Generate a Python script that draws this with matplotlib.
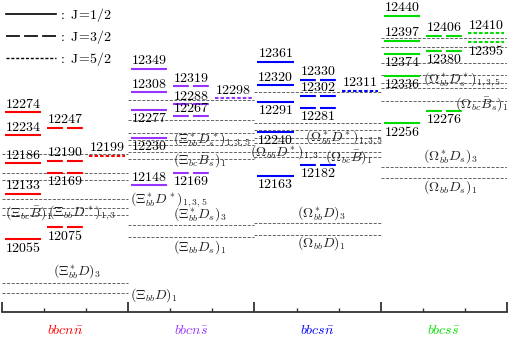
import matplotlib.pyplot as plt
from matplotlib.lines import Line2D

plt.rcParams['mathtext.fontset'] = 'cm'
plt.rcParams['font.family'] = 'serif'
plt.rcParams['font.serif'] = ['cmr10', 'DejaVu Serif']
plt.rcParams['lines.scale_dashes'] = False
plt.rcParams['axes.unicode_minus'] = False

# systems / colours
systems = [r'$bbcn\bar{n}$', r'$bbcn\bar{s}$', r'$bbcs\bar{n}$', r'$bbcs\bar{s}$']
colors = ['#ff0000', '#9933ff', '#0000ff', '#00dd00']

# mass levels (MeV), J=1/2, 3/2, 5/2
nn_j1 = [12274, 12234, 12186, 12133, 12055]
nn_j3 = [12247, 12190, 12169, 12075]
nn_j5 = [12199]
ns_j1 = [12349, 12308, 12277, 12230, 12148]
ns_j3 = [12319, 12288, 12267, 12169]
ns_j5 = [12298]
sn_j1 = [12361, 12320, 12291, 12240, 12163]
sn_j3 = [12330, 12302, 12281, 12182]
sn_j5 = [12311]
ss_j1 = [12440, 12397, 12374, 12336, 12256]
ss_j3 = [12406, 12380, 12276]
ss_j5 = [12410, 12395]

# label above (1) or below (0) the level
nn_up = [[1, 1, 1, 1, 0], [1, 1, 0, 0], [1]]
ns_up = [[1, 1, 0, 0, 1], [1, 1, 1, 0], [1]]
sn_up = [[1, 1, 0, 0, 0], [1, 1, 0, 0], [1]]
ss_up = [[1, 1, 0, 0, 0], [1, 0, 0], [1, 0]]

# meson-baryon thresholds (MeV)
nn_thr = [12202, 12169, 12157, 12124, 12108, 12096, 11979, 11962]
ns_thr = [12295, 12260, 12238, 12226, 12217, 12205, 12193, 12079, 12058]
sn_thr = [12309, 12255, 12243, 12229, 12221, 12205, 12196, 12082, 12062]
ss_thr = [12402, 12386, 12359, 12338, 12324, 12316, 12293, 12179, 12160]

groups = [([nn_j1, nn_j3, nn_j5], nn_up, nn_thr),
          ([ns_j1, ns_j3, ns_j5], ns_up, ns_thr),
          ([sn_j1, sn_j3, sn_j5], sn_up, sn_thr),
          ([ss_j1, ss_j3, ss_j5], ss_up, ss_thr)]

fig = plt.figure(figsize=(5.1, 3.39), dpi=100)
ax = fig.add_axes([2/510, 27/339, 505/510, 312/339])
ax.set_xlim(0, 12)
ax.set_ylim(11928.8, 12467.6)

styles = ['-', (0, (11.4, 3.0)), (0, (2.5, 1.5))]
px = 0.72  # points per pixel

for g, (levels, ups, thr) in enumerate(groups):
    ax.hlines(thr, 3*g, 3*g + 3, colors='#4a4a4a', lw=0.6, linestyles=(0, (2.2, 1.1)))
    for c in range(3):
        x0 = 3*g + c
        for E, up in zip(levels[c], ups[c]):
            ax.plot([x0 + 0.07, x0 + 0.93], [E, E], color=colors[g], lw=1.5,
                    ls=styles[c], solid_capstyle='butt', dash_capstyle='butt')
            ax.annotate(r'$%d$' % E, (x0 + 0.5, E),
                        xytext=(0, 1.5*px if up else -2*px), textcoords='offset points',
                        ha='center', va='bottom' if up else 'top', fontsize=10)
    ax.annotate(systems[g], (3*g + 1.5, ax.get_ylim()[0]), xytext=(0, -18*px),
                textcoords='offset points', ha='center', va='center',
                color=colors[g], fontsize=10)

# threshold labels: energy, text, x, vertical shift (px)
thr_labels = [
    (11962, r'$(\Xi_{bb}D)_1$', 3.04, -2),
    (11979, r'$(\Xi^*_{bb}D)_3$', 1.22, 11),
    (12124, r'$(\Xi^*_{bb}D^*)_{1,3,5}$', 3.04, -1),
    (12108, r'$(\Xi_{bb}D^*)_{1,3}$', 1.09, -4),
    (12096, r'$(\Xi_{bc}\bar{B})_1$', 0.07, 2),
    (12079, r'$(\Xi^*_{bb}D_s)_3$', 4.06, 10),
    (12058, r'$(\Xi_{bb}D_s)_1$', 4.06, -10),
    (12226, r'$(\Xi^*_{bb}D^*_s)_{1,3,5}$', 4.06, 0),
    (12193, r'$(\Xi_{bc}\bar{B}_s)_1$', 4.06, -1),
    (12062, r'$(\Omega_{bb}D)_1$', 7.01, -8),
    (12082, r'$(\Omega^*_{bb}D)_3$', 7.01, 9),
    (12229, r'$(\Omega^*_{bb}D^*)_{1,3,5}$', 7.2, 1),
    (12205, r'$(\Omega_{bb}D^*)_{1,3}$', 5.89, -1),
    (12196, r'$(\Omega_{bc}\bar{B})_1$', 7.67, 0),
    (12160, r'$(\Omega_{bb}D_s)_1$', 10.0, -9),
    (12179, r'$(\Omega^*_{bb}D_s)_3$', 10.0, 10),
    (12338, r'$(\Omega^*_{bb}D^*_s)_{1,3,5}$', 10.0, -5),
    (12293, r'$(\Omega_{bc}\bar{B}_s)_1$', 10.76, -3),
]
for E, txt, x, dy in thr_labels:
    ax.annotate(txt, (x, E), xytext=(0, dy*px), textcoords='offset points',
                ha='left', va='center', fontsize=10, color='#222222')

# legend
handles = [Line2D([], [], color='k', lw=1.2, ls='-'),
           Line2D([], [], color='k', lw=1.2, ls=(0, (10.0, 3.0))),
           Line2D([], [], color='k', lw=1.0, ls=(0, (2.2, 1.3)))]
labels = [r'$:\ \mathrm{J}\!=\!1/2$', r'$:\ \mathrm{J}\!=\!3/2$', r'$:\ \mathrm{J}\!=\!5/2$']
ax.legend(handles, labels, loc='upper left', bbox_to_anchor=(-0.004, 1.0), frameon=False,
          handlelength=3.6, handletextpad=0.2, borderaxespad=0, borderpad=0.4,
          labelspacing=0.3, fontsize=10)

for s in ['top', 'left', 'right']:
    ax.spines[s].set_visible(False)
ax.spines['bottom'].set_linewidth(1.3)
ax.spines['bottom'].set_color('#333333')
ax.set_yticks([])
ax.set_xticks([0, 3, 6, 9, 12])
ax.set_xticks([1, 2, 4, 5, 7, 8, 10, 11], minor=True)
ax.set_xticklabels([])
ax.tick_params(axis='x', which='major', direction='in', length=7, width=1.2, color='#222222')
ax.tick_params(axis='x', which='minor', direction='in', length=3, width=1.0, color='#333333')
ax.patch.set_visible(False)

fig.savefig('out.png', dpi=100)
